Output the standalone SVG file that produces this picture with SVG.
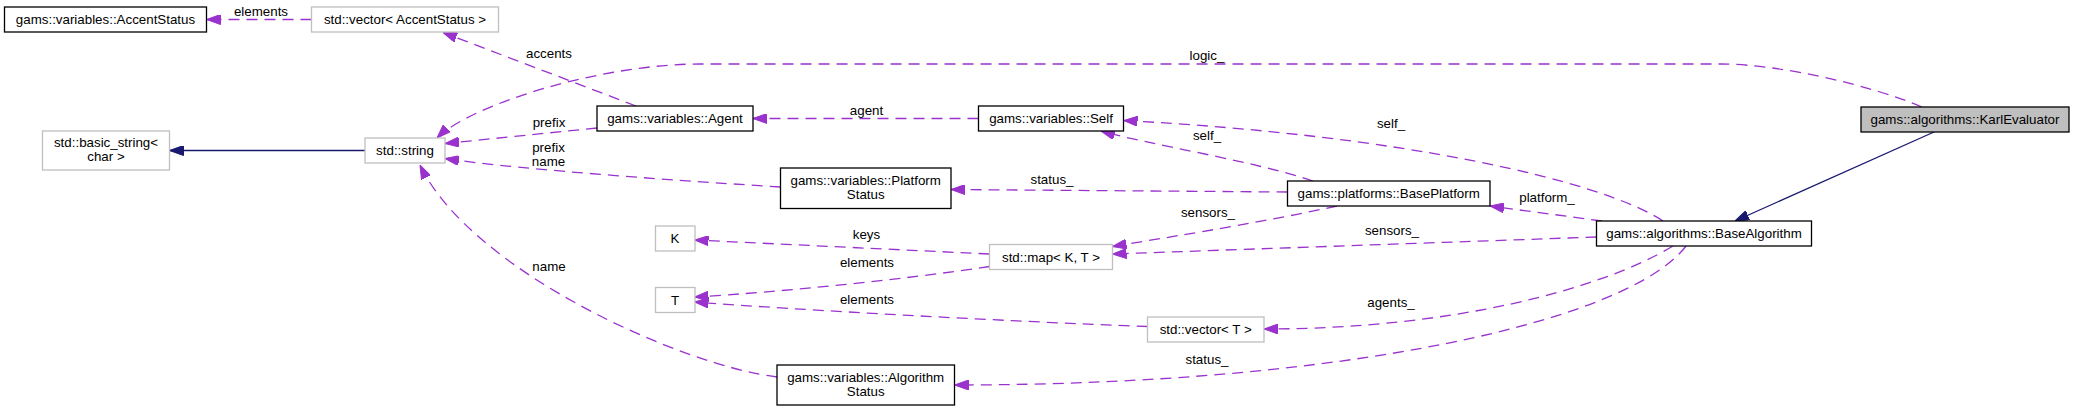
<svg xmlns="http://www.w3.org/2000/svg" width="2075" height="411" viewBox="0 0 2075 411">
<style>
text{font-family:"Liberation Sans",Arial,sans-serif;font-size:13.33px;fill:#000;text-anchor:middle}
.nb{fill:#fff;stroke:#000;stroke-width:1.3}
.ng{fill:#fff;stroke:#bfbfbf;stroke-width:1.3}
.nk{fill:#bfbfbf;stroke:#000;stroke-width:1.3}
.e{fill:none;stroke:#9a32cd;stroke-width:1.3;stroke-dasharray:11,7;marker-end:url(#ap)}
.i{fill:none;stroke:#191970;stroke-width:1.3;marker-end:url(#an)}
</style>
<defs>
<marker id="ap" markerUnits="userSpaceOnUse" markerWidth="14" markerHeight="10" viewBox="0 0 14 10" refX="14" refY="5" orient="auto"><polygon points="0,0 14,5 0,10" fill="#9a32cd" stroke="#9a32cd"/></marker>
<marker id="an" markerUnits="userSpaceOnUse" markerWidth="14" markerHeight="10" viewBox="0 0 14 10" refX="14" refY="5" orient="auto"><polygon points="0,0 14,5 0,10" fill="#191970" stroke="#191970"/></marker>
</defs>
<rect width="2075" height="411" fill="#fff"/>
<g id="connectors">
<path class="e" d="M311.5,19.5 L206.5,19.5"/>
<text x="261" y="16">elements</text>
<path class="e" d="M636,106 L443,32.5"/>
<text x="549" y="58">accents</text>
<path class="e" d="M1922,107 C1870,85 1780,64 1720,64 L700,64 C600,64 470,105 437,138"/>
<text x="1207" y="60">logic_</text>
<path class="e" d="M978.5,118.5 L753,118.5"/>
<text x="866.5" y="115">agent</text>
<path class="e" d="M597,128 L445,143.5"/>
<text x="549" y="127">prefix</text>
<path class="e" d="M780.5,187 C700,182 520,170 445,158.5"/>
<text x="548.5" y="152">prefix</text>
<text x="548.5" y="166">name</text>
<path class="e" d="M777,377 C680,365 470,270 420,165"/>
<text x="549" y="271">name</text>
<path class="e" d="M1313,181 C1250,160 1150,145 1101,131"/>
<text x="1207" y="140">self_</text>
<path class="e" d="M1663,221 C1600,180 1400,135 1123.5,120.5"/>
<text x="1391" y="128">self_</text>
<path class="e" d="M1287.5,192 L951,189.5"/>
<text x="1052" y="184">status_</text>
<path class="e" d="M1602,221 L1490,206"/>
<text x="1547" y="202">platform_</text>
<path class="e" d="M1337,206 C1250,225 1150,240 1112.5,246.5"/>
<text x="1208" y="217">sensors_</text>
<path class="e" d="M1596.5,237 L1112.5,254"/>
<text x="1392" y="235">sensors_</text>
<path class="e" d="M989.5,254 L694.5,240"/>
<text x="866.5" y="239">keys</text>
<path class="e" d="M989.5,266.5 C900,280 780,292 694.5,297"/>
<text x="867" y="267">elements</text>
<path class="e" d="M1147.5,326.5 C1000,321 800,310 694.5,302"/>
<text x="867" y="304">elements</text>
<path class="e" d="M1673,246 C1600,290 1450,329 1264,329"/>
<text x="1391" y="307">agents_</text>
<path class="e" d="M1686,246 C1630,320 1350,385 954.5,385"/>
<text x="1207" y="364">status_</text>
<path class="i" d="M365,150.5 L169.5,150.5"/>
<path class="i" d="M1934,132 L1735,221"/>
</g>
<g id="n-accentstatus"><rect class="nb" x="4.5" y="7" width="202" height="25"/><text x="105.5" y="24">gams::variables::AccentStatus</text></g>
<g id="n-vector-accent"><rect class="ng" x="311.5" y="7" width="187" height="25"/><text x="405" y="24">std::vector&lt; AccentStatus &gt;</text></g>
<g id="n-basic-string"><rect class="ng" x="42.5" y="131" width="127" height="39"/><text x="106" y="147">std::basic_string&lt;</text><text x="106" y="161">char &gt;</text></g>
<g id="n-string"><rect class="ng" x="365" y="138" width="80" height="25"/><text x="405" y="155">std::string</text></g>
<g id="n-agent"><rect class="nb" x="597" y="106" width="156" height="25"/><text x="675" y="123">gams::variables::Agent</text></g>
<g id="n-self"><rect class="nb" x="978.5" y="106" width="145" height="25"/><text x="1051" y="123">gams::variables::Self</text></g>
<g id="n-karl"><rect class="nk" x="1861" y="107" width="208" height="25"/><text x="1965" y="124">gams::algorithms::KarlEvaluator</text></g>
<g id="n-platformstatus"><rect class="nb" x="780.5" y="168" width="170.5" height="40.5"/><text x="865.7" y="184.5">gams::variables::Platform</text><text x="865.7" y="198.5">Status</text></g>
<g id="n-baseplatform"><rect class="nb" x="1287.5" y="181" width="202.5" height="25"/><text x="1388.7" y="198">gams::platforms::BasePlatform</text></g>
<g id="n-basealgorithm"><rect class="nb" x="1596.5" y="221" width="215" height="25"/><text x="1704" y="238">gams::algorithms::BaseAlgorithm</text></g>
<g id="n-k"><rect class="ng" x="655.5" y="226" width="39.5" height="25"/><text x="675" y="243">K</text></g>
<g id="n-map"><rect class="ng" x="989.5" y="244.5" width="123" height="25"/><text x="1051" y="261.5">std::map&lt; K, T &gt;</text></g>
<g id="n-t"><rect class="ng" x="655.5" y="287.5" width="39.5" height="25"/><text x="675" y="304.5">T</text></g>
<g id="n-vector-t"><rect class="ng" x="1147.5" y="317" width="116.5" height="25"/><text x="1205.7" y="334">std::vector&lt; T &gt;</text></g>
<g id="n-algorithmstatus"><rect class="nb" x="777" y="365" width="177.5" height="40"/><text x="865.7" y="381.5">gams::variables::Algorithm</text><text x="865.7" y="395.5">Status</text></g>
</svg>
